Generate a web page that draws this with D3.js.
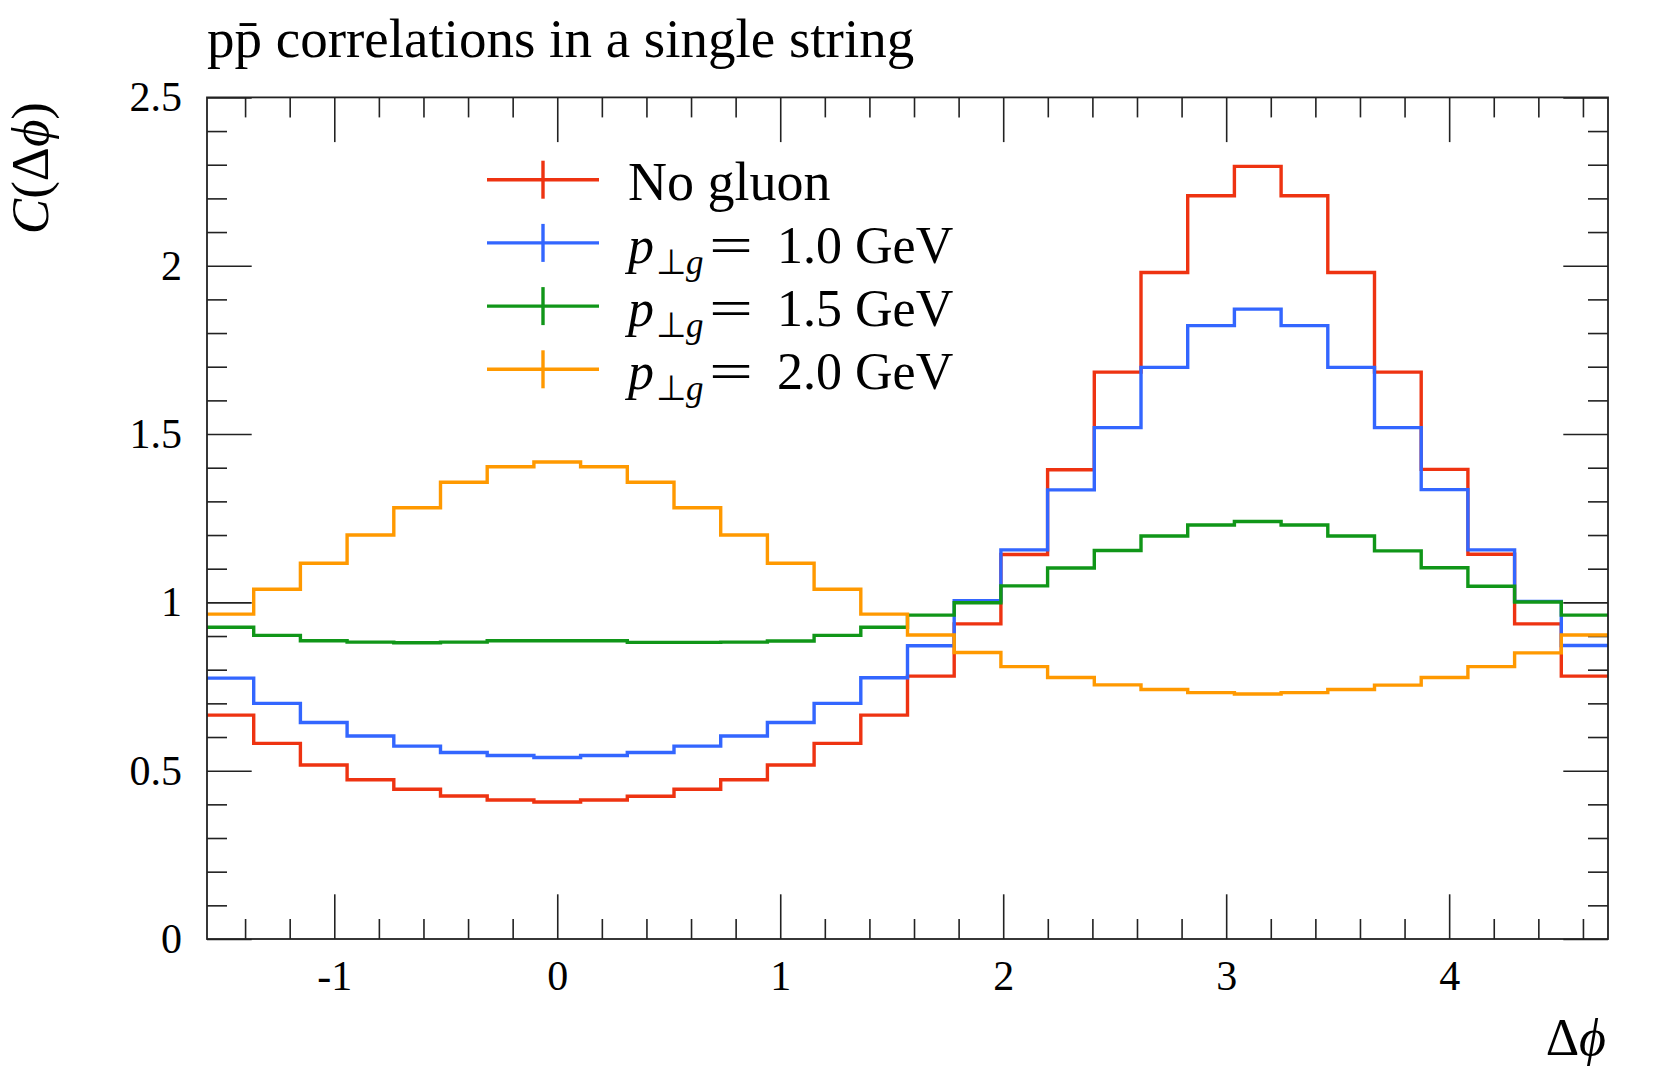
<!DOCTYPE html>
<html><head><meta charset="utf-8">
<script src="https://cdn.jsdelivr.net/npm/d3@7"></script>
<style>
body{margin:0;background:#fff}
svg{display:block}
text{font-family:"Liberation Serif","Times New Roman",serif;fill:#000}
</style>
</head><body>
<svg id="c" width="1660" height="1079"></svg>
<script>
// ---------- data ----------
const titleText = "pp\u0304 correlations in a single string";
const xDomain = [-Math.PI / 2, 3 * Math.PI / 2];
const yDomain = [0, 2.5];
const nBins = 30;
const xMajorTicks = [-1, 0, 1, 2, 3, 4];
const xTickLabels = ["-1", "0", "1", "2", "3", "4"];
const yMajorTicks = [0, 0.5, 1, 1.5, 2, 2.5];
const yTickLabels = ["0", "0.5", "1", "1.5", "2", "2.5"];

const seriesKeys = ["noGluon", "pt10", "pt15", "pt20"];
const seriesColors = ["#EE3311", "#3366FF", "#109618", "#FF9900"];
const legendPt = [null, "1.0", "1.5", "2.0"];
const legendPlain = ["No gluon", null, null, null];

const noGluon = [0.665, 0.581, 0.517, 0.473, 0.445, 0.425, 0.413, 0.407, 0.413, 0.424,
                 0.445, 0.473, 0.517, 0.581, 0.665, 0.781, 0.936, 1.142, 1.394, 1.684,
                 1.980, 2.208, 2.295, 2.208, 1.980, 1.684, 1.395, 1.143, 0.936, 0.781];
const pt10 = [0.775, 0.700, 0.643, 0.603, 0.573, 0.554, 0.545, 0.539, 0.545, 0.554,
              0.573, 0.603, 0.643, 0.700, 0.776, 0.871, 1.005, 1.156, 1.334, 1.519,
              1.698, 1.822, 1.871, 1.822, 1.698, 1.519, 1.335, 1.156, 1.003, 0.872];
const pt15 = [0.926, 0.902, 0.886, 0.882, 0.880, 0.882, 0.886, 0.886, 0.886, 0.881,
              0.881, 0.882, 0.885, 0.902, 0.926, 0.962, 0.999, 1.049, 1.102, 1.154,
              1.197, 1.230, 1.240, 1.230, 1.197, 1.153, 1.103, 1.048, 1.001, 0.962];
const pt20 = [0.965, 1.039, 1.116, 1.200, 1.281, 1.357, 1.403, 1.417, 1.403, 1.357,
              1.281, 1.200, 1.116, 1.039, 0.965, 0.903, 0.851, 0.809, 0.777, 0.755,
              0.741, 0.732, 0.728, 0.732, 0.741, 0.754, 0.777, 0.809, 0.850, 0.903];
const seriesData = [noGluon, pt10, pt15, pt20];

// ---------- layout ----------
const L = 207, R = 1608, T = 97.4, B = 939;
const svg = d3.select("#c");
const x = d3.scaleLinear().domain(xDomain).range([L, R]);
const y = d3.scaleLinear().domain(yDomain).range([B, T]);

const binW = (xDomain[1] - xDomain[0]) / nBins;
const edges = d3.range(nBins + 1).map(i => xDomain[0] + i * binW);

const xMinor = d3.range(Math.ceil(xDomain[0] * 5), Math.floor(xDomain[1] * 5) + 1)
  .filter(k => k % 5 !== 0).map(k => k / 5);
const yMinor = d3.range(0, 26).filter(k => k % 5 !== 0).map(k => k / 10);

const tickColor = "#222";
function styleAxis(g) {
  g.select(".domain").remove();
  g.selectAll(".tick line").attr("stroke", tickColor).attr("stroke-width", 1.6);
  g.attr("font-family", null).attr("font-size", null);
  g.selectAll("text").attr("font-size", 42).attr("fill", "#000")
    .style("font-family", '"Liberation Serif","Times New Roman",serif');
}

// bottom
svg.append("g").attr("transform", `translate(0,${B})`)
  .call(d3.axisBottom(x).tickValues(xMajorTicks).tickFormat((d, i) => xTickLabels[i])
    .tickSizeInner(-44.7).tickSizeOuter(0).tickPadding(21)).call(styleAxis);
svg.append("g").attr("transform", `translate(0,${B})`)
  .call(d3.axisBottom(x).tickValues(xMinor).tickFormat("").tickSizeInner(-20).tickSizeOuter(0)).call(styleAxis);
// top
svg.append("g").attr("transform", `translate(0,${T})`)
  .call(d3.axisTop(x).tickValues(xMajorTicks).tickFormat("").tickSizeInner(-44.7).tickSizeOuter(0)).call(styleAxis);
svg.append("g").attr("transform", `translate(0,${T})`)
  .call(d3.axisTop(x).tickValues(xMinor).tickFormat("").tickSizeInner(-20).tickSizeOuter(0)).call(styleAxis);
// left
svg.append("g").attr("transform", `translate(${L},0)`)
  .call(d3.axisLeft(y).tickValues(yMajorTicks).tickFormat((d, i) => yTickLabels[i])
    .tickSizeInner(-44.7).tickSizeOuter(0).tickPadding(25)).call(styleAxis);
svg.append("g").attr("transform", `translate(${L},0)`)
  .call(d3.axisLeft(y).tickValues(yMinor).tickFormat("").tickSizeInner(-20).tickSizeOuter(0)).call(styleAxis);
// right
svg.append("g").attr("transform", `translate(${R},0)`)
  .call(d3.axisRight(y).tickValues(yMajorTicks).tickFormat("").tickSizeInner(-44.7).tickSizeOuter(0)).call(styleAxis);
svg.append("g").attr("transform", `translate(${R},0)`)
  .call(d3.axisRight(y).tickValues(yMinor).tickFormat("").tickSizeInner(-20).tickSizeOuter(0)).call(styleAxis);

// histograms
const line = d3.line().x(d => x(d[0])).y(d => y(d[1])).curve(d3.curveStepAfter);
const plot = svg.append("g");
seriesData.forEach((vals, s) => {
  const pts = edges.map((e, i) => [e, vals[Math.min(i, nBins - 1)]]);
  plot.append("path").attr("d", line(pts)).attr("fill", "none")
    .attr("stroke", seriesColors[s]).attr("stroke-width", 3.4).attr("stroke-linejoin", "miter")
    .attr("stroke-linecap", "butt");
});

// frame
svg.append("rect").attr("x", L).attr("y", T).attr("width", R - L).attr("height", B - T)
  .attr("fill", "none").attr("stroke", tickColor).attr("stroke-width", 1.8);

// title
svg.append("text").attr("x", L).attr("y", 57).attr("font-size", 55).text(titleText);

// y label
const yl = svg.append("text").attr("transform", "translate(48,102) rotate(-90)")
  .attr("text-anchor", "end").attr("font-size", 53);
yl.append("tspan").attr("font-style", "italic").text("C");
yl.append("tspan").text("(\u0394");
yl.append("tspan").attr("font-style", "italic").text("\u03D5");
yl.append("tspan").text(")");

// x label
const xl = svg.append("text").attr("x", 1606).attr("y", 1055).attr("text-anchor", "end").attr("font-size", 52);
xl.append("tspan").text("\u0394");
xl.append("tspan").attr("font-style", "italic").text("\u03D5");

// legend
const legY0 = 179.7, legDy = 63.2;
seriesKeys.forEach((k, i) => {
  const yy = legY0 + i * legDy;
  const g = svg.append("g");
  g.append("line").attr("x1", 487).attr("x2", 599).attr("y1", yy).attr("y2", yy)
    .attr("stroke", seriesColors[i]).attr("stroke-width", 3.4);
  g.append("line").attr("x1", 543).attr("x2", 543).attr("y1", yy - 19).attr("y2", yy + 19)
    .attr("stroke", seriesColors[i]).attr("stroke-width", 3.4);
  if (legendPlain[i]) {
    g.append("text").attr("x", 628).attr("y", yy + 20).attr("font-size", 54).text(legendPlain[i]);
  } else {
    const t = g.append("text").attr("x", 628).attr("y", yy + 20).attr("font-size", 52);
    t.append("tspan").attr("font-style", "italic").text("p");
    t.append("tspan").attr("dx", 2).attr("dy", 11).attr("font-size", 35).text("\u22A5");
    t.append("tspan").attr("font-size", 35).attr("font-style", "italic").text("g");
    g.append("text").attr("transform", `translate(709,${yy + 20}) scale(1.5,1)`)
      .attr("font-size", 52).text("=");
    g.append("text").attr("x", 777).attr("y", yy + 20).attr("font-size", 52)
      .text(legendPt[i] + " GeV");
  }
});
</script>
</body></html>
